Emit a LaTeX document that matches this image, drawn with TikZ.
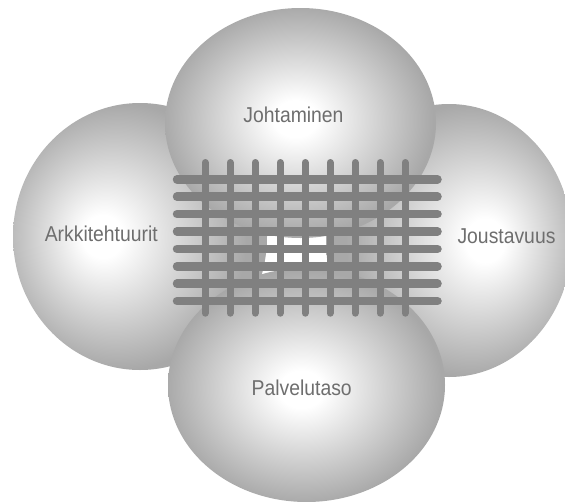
\documentclass[tikz,border=0pt]{standalone}
\usepackage{fontspec}
\setmainfont{Liberation Sans}
\definecolor{ballgray}{RGB}{168,168,168}
\definecolor{bargray}{RGB}{128,128,128}
\definecolor{txtgray}{RGB}{110,110,110}
\pgfdeclareradialshading{shL}{\pgfpoint{-8bp}{0bp}}{color(0bp)=(white);color(4bp)=(white);color(25bp)=(ballgray);color(50bp)=(ballgray)}
\pgfdeclareradialshading{shR}{\pgfpoint{8bp}{0bp}}{color(0bp)=(white);color(4bp)=(white);color(25bp)=(ballgray);color(50bp)=(ballgray)}
\pgfdeclareradialshading{shT}{\pgfpoint{-1bp}{1bp}}{color(0bp)=(white);color(4bp)=(white);color(25bp)=(ballgray);color(50bp)=(ballgray)}
\pgfdeclareradialshading{shB}{\pgfpoint{-1bp}{-1bp}}{color(0bp)=(white);color(4bp)=(white);color(25bp)=(ballgray);color(50bp)=(ballgray)}
\tikzset{
  hbar/.style={draw=bargray, line width=8.5pt, line cap=round},
  vbar/.style={draw=bargray, line width=7pt, line cap=round},
  lbl/.style={anchor=base, inner sep=0pt, text=txtgray, font=\fontsize{21.5}{25}\selectfont}
}
\begin{document}
\begin{tikzpicture}[x=1pt, y=-1pt]
\useasboundingbox (0,0) rectangle (565,501);
\clip (0,0) rectangle (565,501);
% side balls
\shade[shading=shL] (140,236.5) ellipse [x radius=127pt, y radius=133.5pt];
\shade[shading=shR] (449,240.5) ellipse [x radius=123pt, y radius=136.5pt];
% top and bottom balls
\shade[shading=shT] (300.5,123) ellipse [x radius=135.5pt, y radius=115pt];
\shade[shading=shB] (306.5,385) ellipse [x radius=138.5pt, y radius=117pt];
% grid
\foreach \i in {0,...,8} \draw[vbar] (205+25*\i,162.5) -- (205+25*\i,313.2);
\foreach \i in {0,...,7} \draw[hbar] (177,179.3+17.39*\i) -- (437.5,179.3+17.39*\i);
% labels
\node[lbl] (joht) at (293.5,122.3) {\scalebox{0.9}[1]{Johtaminen}};
\node[lbl] (arkk) at (101.3,241) {\scalebox{0.9}[1]{Arkkitehtuurit}};
\node[lbl] (jous) at (506.5,243.3) {\scalebox{0.9}[1]{Joustavuus}};
\node[lbl] (palv) at (301.7,395) {\scalebox{0.9}[1]{Palvelutaso}};
\end{tikzpicture}
\end{document}
